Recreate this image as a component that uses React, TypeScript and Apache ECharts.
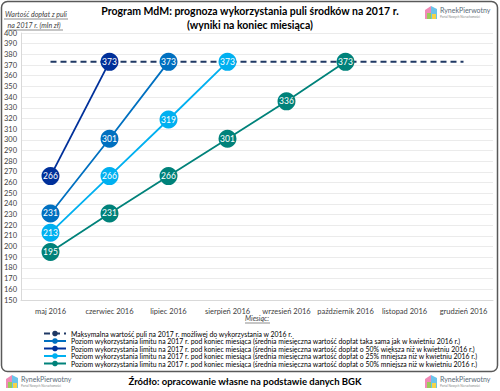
import React, { useEffect, useRef } from "react";
import * as echarts from "echarts";

const months = ["maj 2016", "czerwiec 2016", "lipiec 2016", "sierpień 2016", "wrzesień 2016", "październik 2016", "listopad 2016", "grudzień 2016"];
const maxPool = [373, 373, 373, 373, 373, 373, 373, 373];
const sameAvg = [231, 301, 373, null, null, null, null, null];
const plus50 = [266, 373, null, null, null, null, null, null];
const minus25 = [213, 266, 319, 373, null, null, null, null];
const minus50 = [195, 231, 266, 301, 336, 373, null, null];

const names = [
  "Maksymalna wartość puli na 2017 r. możliwej do wykorzystania w 2016 r.",
  "Poziom wykorzystania limitu na 2017 r. pod koniec miesiąca (średnia miesięczna wartość dopłat taka sama jak w kwietniu 2016 r.)",
  "Poziom wykorzystania limitu na 2017 r. pod koniec miesiąca (średnia miesięczna wartość dopłat o 50% większa niż w kwietniu 2016 r.)",
  "Poziom wykorzystania limitu na 2017 r. pod koniec miesiąca (średnia miesięczna wartość dopłat o 25% mniejsza niż w kwietniu 2016 r.)",
  "Poziom wykorzystania limitu na 2017 r. pod koniec miesiąca (średnia miesięczna wartość dopłat o 50% mniejsza niż w kwietniu 2016 r.)",
];

const FONT = "Lato";

function logo(x: number, y: number) {
  return {
    type: "group",
    x,
    y,
    children: [
      { type: "polygon", shape: { points: [[0, 5], [6, 1], [6, 14], [0, 14]] }, style: { fill: "#f08ab5" } },
      { type: "polygon", shape: { points: [[6, 1], [12, 4], [12, 14], [6, 14]] }, style: { fill: "#6cc4ea" } },
      { type: "rect", shape: { x: 2, y: 8, width: 4, height: 6 }, style: { fill: "#9ccc5a" } },
      { type: "rect", shape: { x: 7, y: 9, width: 4, height: 5 }, style: { fill: "#f5d44a" } },
      { type: "text", x: 15, y: 1, style: { text: "RynekPierwotny", font: `7px ${FONT}`, fill: "#5a6b78" } },
      { type: "text", x: 15, y: 10, style: { text: "Portal Nowych Nieruchomości", font: `3px ${FONT}`, fill: "#8a8a8a" } },
    ],
  };
}

export default function App() {
  const ref = useRef<HTMLDivElement>(null);
  useEffect(() => {
    const chart = echarts.init(ref.current!, null, { renderer: "svg" });
    const lab = { show: true, position: "inside", color: "#fff", fontSize: 8.5, fontFamily: FONT };
    const mk = (name: string, data: (number | null)[], color: string) => ({
      name,
      type: "line",
      data,
      symbol: "circle",
      symbolSize: 18,
      connectNulls: false,
      lineStyle: { color, width: 1.8 },
      itemStyle: { color },
      label: lab,
      z: 3,
    });
    chart.setOption({
      animation: false,
      textStyle: { fontFamily: FONT },
      grid: { left: 21, right: 7, top: 33, bottom: 91 },
      xAxis: {
        type: "category",
        data: months,
        boundaryGap: true,
        axisTick: { show: false },
        axisLine: { lineStyle: { color: "#d9d9d9" } },
        axisLabel: { fontSize: 7.5, color: "#404040", margin: 7, fontFamily: FONT, interval: 0 },
      },
      yAxis: {
        type: "value",
        min: 150,
        max: 400,
        interval: 10,
        axisLine: { show: true, lineStyle: { color: "#d9d9d9" } },
        axisTick: { show: false },
        axisLabel: { fontSize: 7.5, color: "#404040", margin: 4, fontFamily: FONT },
        splitLine: { lineStyle: { color: "#ebebeb" } },
      },
      legend: {
        orient: "vertical",
        left: 38,
        top: 324,
        itemWidth: 22,
        itemHeight: 7,
        itemGap: -1.5,
        textStyle: { fontSize: 6.9, color: "#000", fontFamily: FONT, lineHeight: 9 },
        data: names,
      },
      series: [
        {
          name: names[0],
          type: "line",
          data: maxPool,
          symbol: "none",
          lineStyle: { color: "#1f3864", width: 2, type: [6, 4] },
          itemStyle: { color: "#1f3864" },
          z: 1,
        },
        mk(names[1], sameAvg, "#0070c0"),
        mk(names[2], plus50, "#00309a"),
        mk(names[3], minus25, "#00b0f0"),
        mk(names[4], minus50, "#00827a"),
      ],
      graphic: [
        { type: "rect", shape: { x: 1.5, y: 1.5, width: 496, height: 370, r: 6 }, style: { fill: "none", stroke: "#595959", lineWidth: 1.5 }, z: 0 },
        { type: "text", x: 250, y: 5, style: { text: "Program MdM: prognoza wykorzystania puli środków na 2017 r.", font: `bold 10.5px ${FONT}`, fill: "#000", align: "center" } },
        { type: "text", x: 250, y: 19, style: { text: "(wyniki na koniec miesiąca)", font: `bold 10.5px ${FONT}`, fill: "#000", align: "center" } },
        { type: "text", x: 36, y: 10, style: { text: "Wartość dopłat z puli", font: `italic 7px ${FONT}`, fill: "#404040", align: "center" } },
        { type: "line", shape: { x1: 4, y1: 19, x2: 68, y2: 19 }, style: { stroke: "#404040", lineWidth: 0.6 } },
        { type: "text", x: 34, y: 21, style: { text: "na 2017 r. (mln zł)", font: `italic 7px ${FONT}`, fill: "#404040", align: "center" } },
        { type: "line", shape: { x1: 7, y1: 30, x2: 63, y2: 30 }, style: { stroke: "#404040", lineWidth: 0.6 } },
        { type: "text", x: 257, y: 314, style: { text: "Miesiąc:", font: `italic 7px ${FONT}`, fill: "#404040", align: "center" } },
        { type: "line", shape: { x1: 245, y1: 323, x2: 270, y2: 323 }, style: { stroke: "#404040", lineWidth: 0.6 } },
        { type: "text", x: 245, y: 376, style: { text: "Źródło: opracowanie własne na podstawie danych BGK", font: `bold 9.5px ${FONT}`, fill: "#000", align: "center" } },
        logo(425, 5),
        logo(6, 374),
        logo(425, 374),
      ],
    });
    return () => chart.dispose();
  }, []);
  return <div ref={ref} style={{ width: 500, height: 391, position: "absolute", left: 0, top: 0 }} />;
}
